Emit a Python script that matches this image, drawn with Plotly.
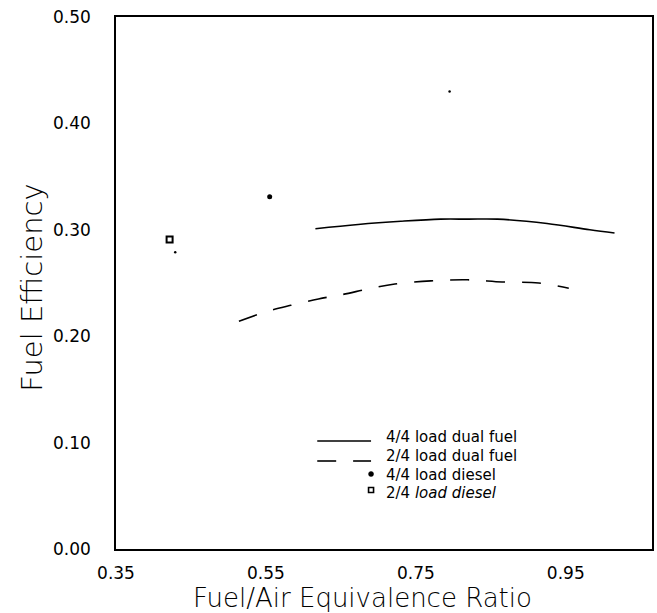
import plotly.graph_objects as go

# ---- data ----
dual_full_x = [0.616, 0.673, 0.73, 0.783, 0.82, 0.859, 0.925, 0.982, 1.015]
dual_full_y = [0.301, 0.305, 0.308, 0.310, 0.310, 0.310, 0.306, 0.300, 0.297]

dual_half_x = [0.514, 0.55, 0.583, 0.62, 0.651, 0.69, 0.722, 0.77, 0.819, 0.865, 0.914, 0.954]
dual_half_y = [0.214, 0.223, 0.229, 0.235, 0.239, 0.245, 0.249, 0.252, 0.253, 0.251, 0.250, 0.245]

diesel_full_x = [0.555]
diesel_full_y = [0.331]

diesel_half_x = [0.4215]
diesel_half_y = [0.291]

speck_x = [0.429, 0.795]
speck_y = [0.279, 0.430]

legend_labels = ["4/4 load dual fuel", "2/4 load dual fuel", "4/4 load diesel", "2/4 <i>load diesel</i>"]

x_major_ticks = [0.35, 0.55, 0.75, 0.95]
y_major_ticks = [0.0, 0.1, 0.2, 0.3, 0.4, 0.5]

X_RANGE = [0.35, 1.065]
Y_RANGE = [0.0, 0.5]

FONT = "DejaVu Sans"
INK = "#000000"
W_PX, H_PX = 538.0, 532.0

fig = go.Figure()
fig.add_trace(go.Scatter(x=dual_full_x, y=dual_full_y, mode="lines",
                         line=dict(color=INK, width=1.6, shape="spline"),
                         name=legend_labels[0]))
fig.add_trace(go.Scatter(x=dual_half_x, y=dual_half_y, mode="lines",
                         line=dict(color=INK, width=1.6, dash="19px,17px", shape="spline"),
                         name=legend_labels[1]))
fig.add_trace(go.Scatter(x=diesel_full_x, y=diesel_full_y, mode="markers",
                         marker=dict(color=INK, size=5, symbol="circle"),
                         name=legend_labels[2]))
fig.add_trace(go.Scatter(x=diesel_half_x, y=diesel_half_y, mode="markers",
                         marker=dict(color=INK, size=6, symbol="square-open", line=dict(width=2, color=INK)),
                         name=legend_labels[3]))
fig.add_trace(go.Scatter(x=speck_x, y=speck_y, mode="markers",
                         marker=dict(color=INK, size=2.5), showlegend=False, hoverinfo="skip"))

# ---- outside tick marks drawn as unclipped line markers just outside the axes ----
x_per_px = (X_RANGE[1] - X_RANGE[0]) / W_PX
y_per_px = (Y_RANGE[1] - Y_RANGE[0]) / H_PX

def tick_trace(xs, ys, symbol, size):
    return go.Scatter(x=xs, y=ys, mode="markers", cliponaxis=False,
                      marker=dict(symbol=symbol, size=size, color=INK,
                                  line=dict(color=INK, width=1.8)),
                      showlegend=False, hoverinfo="skip")

n_x = int(round((X_RANGE[1] - X_RANGE[0]) / 0.025))
xt = [X_RANGE[0] + i * 0.025 for i in range(n_x + 1)]
xt_major = [v for v in xt if any(abs(v - m) < 1e-6 for m in x_major_ticks)]
xt_minor = [v for v in xt if v not in xt_major]
fig.add_trace(tick_trace(xt_minor, [-3.5 * y_per_px] * len(xt_minor), "line-ns", 7))
fig.add_trace(tick_trace(xt_major, [-5 * y_per_px] * len(xt_major), "line-ns", 10))

n_y = int(round((Y_RANGE[1] - Y_RANGE[0]) / 0.01))
yt = [Y_RANGE[0] + i * 0.01 for i in range(n_y + 1)]
yt_major = [v for v in yt if any(abs(v - m) < 1e-6 for m in y_major_ticks)]
yt_minor = [v for v in yt if v not in yt_major]
fig.add_trace(tick_trace([X_RANGE[0] - 3 * x_per_px] * len(yt_minor), yt_minor, "line-ew", 6))
fig.add_trace(tick_trace([X_RANGE[0] - 5 * x_per_px] * len(yt_major), yt_major, "line-ew", 10))

axis_common = dict(showline=True, linecolor=INK, linewidth=1.6, mirror=True,
                   ticks="", showgrid=False, zeroline=False,
                   tickfont=dict(family=FONT, size=17, color=INK))

fig.update_layout(
    xaxis=dict(range=X_RANGE, tickmode="array", tickvals=x_major_ticks,
               tickformat=".2f", ticklabelstandoff=8, **axis_common),
    yaxis=dict(range=Y_RANGE, tickmode="array", tickvals=y_major_ticks,
               tickformat=".2f", ticklabelstandoff=20, **axis_common),
)

fig.add_annotation(text="Fuel/Air Equivalence Ratio", xref="paper", yref="paper",
                   x=0.46, y=-0.093, xanchor="center", yanchor="middle", showarrow=False,
                   font=dict(family=FONT, size=26, color=INK, weight=300))
fig.add_annotation(text="Fuel Efficiency", xref="paper", yref="paper",
                   x=-0.156, y=0.492, xanchor="center", yanchor="middle", showarrow=False,
                   textangle=-90,
                   font=dict(family=FONT, size=29, color=INK, weight=300))

# ---- hand-drawn legend (as in the reference) ----
def px(x):
    return (x - 116) / W_PX

def py(y):
    return (549 - y) / H_PX

line_style = dict(color=INK, width=1.6)
fig.add_shape(type="line", xref="paper", yref="paper",
              x0=px(318), x1=px(372), y0=py(441), y1=py(441), line=line_style)
fig.add_shape(type="line", xref="paper", yref="paper",
              x0=px(318), x1=px(337), y0=py(461), y1=py(461), line=line_style)
fig.add_shape(type="line", xref="paper", yref="paper",
              x0=px(354), x1=px(372), y0=py(461), y1=py(461), line=line_style)
fig.add_shape(type="circle", xref="paper", yref="paper",
              xsizemode="pixel", ysizemode="pixel",
              xanchor=px(372), yanchor=py(474), x0=-2.5, x1=2.5, y0=-2.5, y1=2.5,
              fillcolor=INK, line=dict(color=INK, width=0.5))
fig.add_shape(type="rect", xref="paper", yref="paper",
              xsizemode="pixel", ysizemode="pixel",
              xanchor=px(372), yanchor=py(490), x0=-2.5, x1=2.5, y0=-2.5, y1=2.5,
              fillcolor="rgba(0,0,0,0)", line=dict(color=INK, width=1.6))

row_y = [437, 456, 475, 493]
for lab, yy in zip(legend_labels, row_y):
    fig.add_annotation(text=lab, xref="paper", yref="paper",
                       x=px(385), y=py(yy), xanchor="left", yanchor="middle",
                       showarrow=False,
                       font=dict(family=FONT, size=15, color=INK))

fig.update_layout(
    width=657, height=613, autosize=False,
    margin=dict(l=116, r=3, t=17, b=64),
    paper_bgcolor="white", plot_bgcolor="white",
    showlegend=False,
)

fig.write_html("out.html")
